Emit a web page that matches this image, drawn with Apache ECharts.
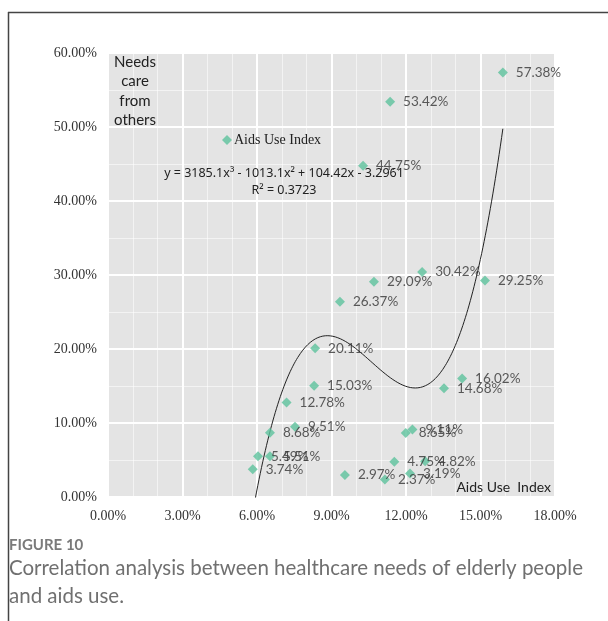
<!DOCTYPE html>
<html>
<head>
<meta charset="utf-8">
<style>
  html, body { margin: 0; padding: 0; background: #ffffff; }
  #chart { width: 608px; height: 621px; }
</style>
<script src="https://cdn.jsdelivr.net/npm/echarts@6/dist/echarts.min.js"></script>
</head>
<body>
<div id="chart"></div>
<script>
// Aids use index (x) and share needing care from others (y), in percent
const aidsUse   = [15.90, 11.36, 10.27, 12.65, 10.71, 15.18, 9.34, 8.34, 14.26, 13.53, 8.30, 7.19,
                   7.53, 6.52, 12.26, 11.99, 6.04, 6.52, 5.83, 9.54, 11.15, 11.53, 12.77, 12.16];
const needsCare = [57.38, 53.42, 44.75, 30.42, 29.09, 29.25, 26.37, 20.11, 16.02, 14.68, 15.03, 12.78,
                   9.51, 8.68, 9.11, 8.65, 5.49, 5.51, 3.74, 2.97, 2.37, 4.75, 4.82, 3.19];

// Cubic trendline coefficients (x^3, x^2, x, const) and fit quality
const trendCoef = [3185.1, -1013.1, 104.42, -3.2961];
const rSquared = 0.3723;

const xTicks = [0, 3, 6, 9, 12, 15, 18];
const yTicks = [0, 10, 20, 30, 40, 50, 60];

const seriesName = 'Aids Use Index';
const yTitle = ['Needs', 'care', 'from', 'others'];
const xTitle = 'Aids Use  Index';
const figLabel = 'FIGURE 10';
const caption = ['Correlation analysis between healthcare needs of elderly people', 'and aids use.'];

const points = aidsUse.map((x, i) => [x / 100, needsCare[i] / 100]);

// trendline sampled across the observed x range
const xMin = Math.min(...aidsUse) / 100, xMax = Math.max(...aidsUse) / 100;
const trend = [];
const steps = 200;
for (let i = 0; i <= steps; i++) {
  const x = xMin + (xMax - xMin) * i / steps;
  const y = trendCoef[0] * x * x * x + trendCoef[1] * x * x + trendCoef[2] * x + trendCoef[3];
  trend.push([x, y]);
}

const eqText = 'y = ' + trendCoef[0] + 'x\u00B3 - ' + Math.abs(trendCoef[1]) + 'x\u00B2 + ' +
               trendCoef[2] + 'x - ' + Math.abs(trendCoef[3]);
const r2Text = 'R\u00B2 = ' + rSquared;

const pct = v => (v * 100).toFixed(2) + '%';
const serif = '"Liberation Serif", "DejaVu Serif", serif';
const sans = 'Lato, "Noto Sans", sans-serif';
const eqFont = '"Noto Sans", Lato, sans-serif';

const chart = echarts.init(document.getElementById('chart'), null, { renderer: 'canvas' });
chart.setOption({
  animation: false,
  backgroundColor: '#ffffff',
  grid: {
    left: 108, top: 53, width: 447, height: 444,
    show: true, backgroundColor: '#e4e4e4', borderWidth: 0
  },
  legend: {
    data: [seriesName],
    left: 217, top: 128,
    icon: 'diamond', itemWidth: 10, itemHeight: 10, itemGap: 4,
    textStyle: { fontFamily: serif, fontSize: 14, color: '#222', padding: [0, 0, 0, -3] }
  },
  xAxis: {
    type: 'value', min: xTicks[0] / 100, max: xTicks[xTicks.length - 1] / 100, interval: 0.03,
    axisLine: { show: false }, axisTick: { show: false },
    axisLabel: { formatter: pct, fontFamily: serif, fontSize: 14, color: '#333', margin: 12 },
    splitLine: { show: true, lineStyle: { color: '#ffffff', width: 2 } },
    minorTick: { show: false, splitNumber: 3 },
    minorSplitLine: { show: true, lineStyle: { color: 'rgba(255,255,255,0.55)', width: 1 } }
  },
  yAxis: {
    type: 'value', min: yTicks[0] / 100, max: yTicks[yTicks.length - 1] / 100, interval: 0.10,
    axisLine: { show: false }, axisTick: { show: false },
    axisLabel: { formatter: pct, fontFamily: serif, fontSize: 14, color: '#333', margin: 11 },
    splitLine: { show: true, lineStyle: { color: '#ffffff', width: 2 } },
    minorTick: { show: false, splitNumber: 2 },
    minorSplitLine: { show: true, lineStyle: { color: 'rgba(255,255,255,0.55)', width: 1 } }
  },
  series: [
    {
      name: 'trend', type: 'line', data: trend, showSymbol: false, symbol: 'none',
      smooth: false, clip: true, silent: true, z: 3,
      lineStyle: { color: '#222', width: 1 }
    },
    {
      name: seriesName, type: 'scatter', data: points, z: 4,
      symbol: 'diamond', symbolSize: [10, 10],
      itemStyle: { color: '#5cc29c' },
      label: {
        show: true, position: 'right', distance: 8,
        formatter: p => pct(p.value[1]),
        fontFamily: sans, fontSize: 13.5, color: '#333'
      }
    }
  ],
  graphic: [
    { type: 'line', shape: { x1: 8.5, y1: 12, x2: 8.5, y2: 621 }, style: { stroke: '#444', lineWidth: 1.5 } },
    { type: 'line', shape: { x1: 8, y1: 12.5, x2: 608, y2: 12.5 }, style: { stroke: '#444', lineWidth: 1.5 } },
    {
      type: 'text', x: 135, y: 52, z: 10,
      style: { text: yTitle.join('\n'), fontFamily: sans, fontSize: 15, lineHeight: 19.5,
               fill: '#222', align: 'center', verticalAlign: 'top' }
    },
    {
      type: 'text', x: 284, y: 173, z: 10,
      style: { text: eqText, fontFamily: eqFont, fontSize: 12.5, fill: '#222', align: 'center', verticalAlign: 'middle' }
    },
    {
      type: 'text', x: 284, y: 190, z: 10,
      style: { text: r2Text, fontFamily: eqFont, fontSize: 12.5, fill: '#222', align: 'center', verticalAlign: 'middle' }
    },
    {
      type: 'text', x: 551, y: 487, z: 10,
      style: { text: xTitle, fontFamily: sans, fontSize: 14, fill: '#222', align: 'right', verticalAlign: 'middle' }
    },
    {
      type: 'text', x: 9, y: 545, z: 10,
      style: { text: figLabel, fontFamily: sans, fontSize: 15, fontWeight: 'bold', fill: '#7a7a7a', verticalAlign: 'middle' }
    },
    {
      type: 'text', x: 9, y: 554, z: 10,
      style: { text: caption.join('\n'), fontFamily: sans, fontSize: 20.5, lineHeight: 28, fill: '#707070', verticalAlign: 'top' }
    }
  ]
});
</script>
</body>
</html>
